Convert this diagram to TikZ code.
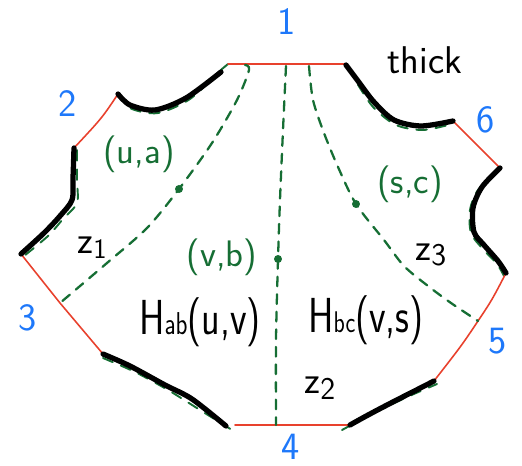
\documentclass[tikz,border=0pt]{standalone}
\usepackage{fontspec}
\definecolor{myred}{RGB}{232,65,45}
\definecolor{myblue}{RGB}{30,120,250}
\definecolor{mygreen}{RGB}{22,110,52}
\begin{document}
\begin{tikzpicture}[x=0.02cm,y=-0.02cm,
  rededge/.style={draw=myred, line width=0.9pt, line cap=round},
  thickb/.style={draw=black, line width=3pt, line cap=round, line join=round},
  gdash/.style={draw=mygreen, line width=1.3pt, dash pattern=on 5.5pt off 4.5pt, line cap=round},
  gshadow/.style={draw=mygreen, line width=1.1pt, dash pattern=on 6pt off 5pt, line cap=round},
  numlab/.style={text=myblue, font=\sffamily\fontsize{22}{24}\selectfont, inner sep=0pt},
  glab/.style={text=mygreen, font=\sffamily\fontsize{21}{24}\selectfont, inner sep=0pt},
  blab/.style={text=black, font=\sffamily\fontsize{22}{24}\selectfont, inner sep=0pt},
  gdot/.style={circle, fill=mygreen, minimum size=0.16cm, inner sep=0pt}]
\useasboundingbox (0,0) rectangle (522,466);

% vertices
\coordinate (t1) at (228,64);
\coordinate (t2) at (346,64);
\coordinate (a1) at (118,94);
\coordinate (a2) at (221,72);
\coordinate (b1) at (74,148);
\coordinate (b2) at (21,254);
\coordinate (c1) at (103,354);
\coordinate (c2) at (226,426);
\coordinate (bt1) at (235,425);
\coordinate (d1) at (350,425);
\coordinate (d2) at (434,381);
\coordinate (e1) at (506,273);
\coordinate (e2) at (500,168);
\coordinate (f2) at (453,121);
\coordinate (f1) at (346,65);
\coordinate (m3) at (60,303);
\coordinate (m5) at (478,321);

% green shadows of the thick sides
\draw[gshadow] (t1) -- (222,69) plot[smooth] coordinates {(222,69) (190,99) (158,113) (132,109) (121,98)};
\draw[gshadow] plot[smooth] coordinates {(77,150) (77,180) (77,203) (63,219) (48,236) (24,256)};
\draw[gshadow] plot[smooth] coordinates {(103,358) (135,372) (168,390) (200,410) (232,430)};
\draw[gshadow] plot[smooth] coordinates {(342,430) (370,415) (405,398) (437,384)};
\draw[gshadow] plot[smooth] coordinates {(497,172) (478,190) (470,210) (471,233) (482,248) (497,264) (504,276)};
\draw[gshadow] plot[smooth] coordinates {(348,68) (360,88) (374,108) (396,125) (423,130) (452,124)};

% red sides
\draw[rededge] (t1) -- (t2);
\draw[rededge] (a1) .. controls (102,118) .. (b1);
\draw[rededge] (b2) -- (m3) -- (c1);
\draw[rededge] (bt1) -- (d1);
\draw[rededge] (d2) .. controls (462,345) .. (m5) .. controls (492,300) .. (e1);
\draw[rededge] (f2) -- (e2);

% thick black sides
\draw[thickb] plot[smooth] coordinates {(a1) (130,105) (155,110) (186,98) (a2)};
\draw[thickb] plot[smooth] coordinates {(b1) (73,178) (72,200) (60,216) (44,233) (b2)};
\draw[thickb] plot[smooth] coordinates {(c1) (130,366) (165,385) (192,399) (c2)};
\draw[thickb] (d1) .. controls (380,408) and (405,396) .. (d2);
\draw[thickb] plot[smooth] coordinates {(e2) (482,187) (473,208) (474,232) (484,245) (498,261) (e1)};
\draw[thickb] plot[smooth] coordinates {(f1) (358,81) (374,102) (394,120) (421,126) (f2)};

% dashed chords
\draw[gdash] plot[smooth] coordinates {(245,65) (249,70) (237,100) (212,143) (179,189) (147,228) (107,263) (m3)};
\draw[gdash] plot[smooth] coordinates {(286,66) (283,130) (280,200) (278,260) (276,340) (276,425)};
\draw[gdash] plot[smooth] coordinates {(309,66) (313,100) (324,133) (338,167) (356,204) (384,240) (404,266) (428,286) (451,303) (m5)};

% dots
\node[gdot] (du) at (179,189) {};
\node[gdot] (dv) at (278,259) {};
\node[gdot] (ds) at (356,204) {};

% labels
\node[numlab] (n1) at (287,22) {1};
\node[numlab] (n2) at (68,104) {2};
\node[numlab] (n3) at (28,318) {3};
\node[numlab] (n4) at (291,447) {4};
\node[numlab] (n5) at (498,341) {5};
\node[numlab] (n6) at (486,120) {6};
\node[blab] (thick) at (425,60) {thick};
\node[glab] (ua) at (139,154) {(u,a)};
\node[glab] (sc) at (410,184) {(s,c)};
\node[glab] (vb) at (222,257) {(v,b)};
\node[blab] (z1) at (92,248) {z\raisebox{-0.12em}{\fontsize{16}{16}\selectfont 1}};
\node[blab] (z2) at (320,388) {z\raisebox{-0.15em}{\fontsize{18}{18}\selectfont 2}};
\node[blab] (z3) at (431,255) {z\raisebox{-0.15em}{\fontsize{18}{18}\selectfont 3}};
\node[blab] (hab) at (200,322) {\scalebox{0.78}[1]{\fontsize{28}{30}\selectfont H{\fontsize{18}{18}\selectfont ab}(u,v)}};
\node[blab] (hbc) at (366,320) {\scalebox{0.78}[1]{\fontsize{28}{30}\selectfont H{\fontsize{17}{17}\selectfont bc}(v,s)}};
\end{tikzpicture}
\end{document}
